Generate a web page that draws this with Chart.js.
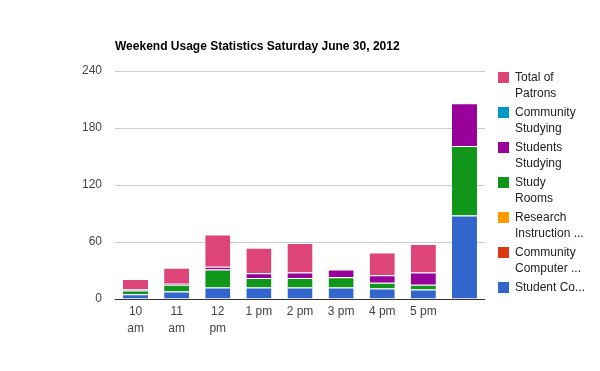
<!DOCTYPE html>
<html>
<head>
<meta charset="utf-8">
<script src="https://cdn.jsdelivr.net/npm/chart.js@4/dist/chart.umd.min.js"></script>
<style>
  html, body { margin: 0; padding: 0; background: #fff; }
  #wrap { width: 600px; height: 371px; position: relative; }
</style>
</head>
<body>
<div id="wrap"><canvas id="c" width="600" height="371"></canvas></div>
<script>
const chartTitle = "Weekend Usage Statistics Saturday June 30, 2012";
const categories = [["10", "am"], ["11", "am"], ["12", "pm"], "1 pm", "2 pm", "3 pm", "4 pm", "5 pm", ""];
const yTicks = [0, 60, 120, 180, 240];

// series in stacking order (bottom to top)
const seriesNames = ["Student Co...", "Community Computer ...", "Research Instruction ...", "Study Rooms", "Students Studying", "Community Studying", "Total of Patrons"];
// legend text as shown (wrapped / truncated)
const legendLines = [["Student Co..."], ["Community", "Computer ..."], ["Research", "Instruction ..."], ["Study", "Rooms"], ["Students", "Studying"], ["Community", "Studying"], ["Total of", "Patrons"]];
const seriesColors = ["#3366cc", "#dc3912", "#ff9900", "#109618", "#990099", "#0099c6", "#dd4477"];

const studentComputers   = [5, 8, 12, 12, 12, 12, 11, 10, 88];
const communityComputers = [0, 0, 0, 0, 0, 0, 0, 0, 0];
const researchInstruction = [0, 0, 0, 0, 0, 0, 0, 0, 0];
const studyRooms         = [4, 7, 19, 10, 10, 11, 6, 5, 73];
const studentsStudying   = [1, 1, 3, 5, 6, 8, 8, 13, 45];
const communityStudying  = [0, 0, 0, 0, 0, 0, 0, 0, 0];
const totalOfPatrons     = [11, 17, 34, 27, 31, 0, 24, 30, 0];

const seriesValues = [studentComputers, communityComputers, researchInstruction, studyRooms, studentsStudying, communityStudying, totalOfPatrons];

const FONT = '"Liberation Sans", Arial, sans-serif';

const datasets = seriesNames.map((name, i) => ({
  label: name,
  legendText: legendLines[i],
  data: seriesValues[i],
  backgroundColor: seriesColors[i],
  borderColor: "#ffffff",
  borderWidth: { top: 1, right: 0, bottom: 0, left: 0 },
  borderSkipped: false,
  stack: "s"
}));

const decor = {
  id: "decor",
  afterDraw(chart) {
    const ctx = chart.ctx;
    ctx.save();
    // title
    ctx.font = "bold 12px " + FONT;
    ctx.fillStyle = "#000";
    ctx.textAlign = "left";
    ctx.textBaseline = "alphabetic";
    ctx.fillText(chartTitle, 115, 50);
    // legend (reverse of stacking order)
    ctx.font = "12px " + FONT;
    ctx.textBaseline = "middle";
    const ds = chart.data.datasets.slice().reverse();
    ds.forEach((d, i) => {
      const top = 72 + i * 35;
      ctx.fillStyle = d.backgroundColor;
      ctx.fillRect(498, top, 11, 11);
      ctx.fillStyle = "#222";
      d.legendText.forEach((ln, j) => ctx.fillText(ln, 515, top + 5.5 + j * 16));
    });
    ctx.restore();
  }
};

new Chart(document.getElementById("c"), {
  type: "bar",
  data: { labels: categories, datasets },
  options: {
    responsive: false,
    animation: false,
    events: [],
    layout: { padding: { left: 10, right: 115, top: 71, bottom: 0 } },
    plugins: { legend: { display: false }, title: { display: false }, tooltip: { enabled: false } },
    datasets: { bar: { categoryPercentage: 1, barPercentage: 0.61 } },
    scales: {
      x: {
        stacked: true,
        grid: { display: false, drawTicks: false },
        border: { display: false },
        ticks: { color: "#444", font: { family: FONT, size: 12 , lineHeight: 1.42 }, padding: 4, maxRotation: 0, autoSkip: false },
        afterFit(s) { s.height = 72; }
      },
      y: {
        stacked: true,
        min: 0, max: 240,
        afterBuildTicks(s) { s.ticks = yTicks.map(v => ({ value: v })); },
        grid: {
          drawTicks: false,
          color: c => (c.tick && c.tick.value === 0) ? "#333" : "#cccccc",
          lineWidth: 1
        },
        border: { display: false },
        ticks: { color: "#444", font: { family: FONT, size: 12 }, padding: 13 },
        afterFit(s) { s.width = 105; }
      }
    }
  },
  plugins: [decor]
});
</script>
</body>
</html>
